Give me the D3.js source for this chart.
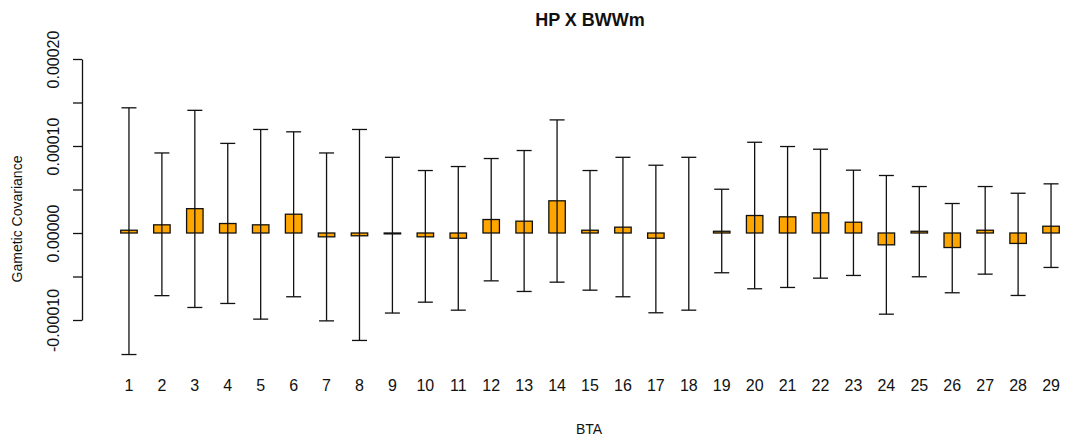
<!DOCTYPE html>
<html>
<head>
<meta charset="utf-8">
<script src="https://cdn.jsdelivr.net/npm/d3@7"></script>
<style>
  html, body { margin: 0; padding: 0; background: #fff; }
  svg { display: block; font-family: "Liberation Sans", Arial, sans-serif; }
</style>
</head>
<body>
<svg id="chart" width="1066" height="442"></svg>
<script>
// Chromosome labels (BTA 1..29)
const chromosomes = ["1","2","3","4","5","6","7","8","9","10","11","12","13","14","15",
  "16","17","18","19","20","21","22","23","24","25","26","27","28","29"];

// Mean gametic covariance per chromosome
const covMean = [3.2e-6, 9.4e-6, 2.8e-5, 1.09e-5, 9.4e-6, 2.16e-5, -4.4e-6, -3.2e-6, -1.0e-6,
  -4.4e-6, -6.0e-6, 1.55e-5, 1.36e-5, 3.7e-5, 3.2e-6, 6.7e-6, -6.0e-6, 0.0, 2.0e-6,
  2.01e-5, 1.86e-5, 2.32e-5, 1.24e-5, -1.36e-5, 2.0e-6, -1.67e-5, 3.2e-6, -1.2e-5, 7.8e-6];

// Upper and lower interval limits
const covUpper = [1.439e-4, 9.2e-5, 1.41e-4, 1.03e-4, 1.19e-4, 1.163e-4, 9.2e-5, 1.19e-4, 8.7e-5,
  7.18e-5, 7.64e-5, 8.56e-5, 9.48e-5, 1.30e-4, 7.18e-5, 8.7e-5, 7.79e-5, 8.7e-5, 5.03e-5,
  1.043e-4, 9.94e-5, 9.63e-5, 7.22e-5, 6.61e-5, 5.34e-5, 3.39e-5, 5.34e-5, 4.57e-5, 5.65e-5];
const covLower = [-1.397e-4, -7.2e-5, -8.56e-5, -8.1e-5, -9.9e-5, -7.33e-5, -1.01e-4, -1.235e-4, -9.2e-5,
  -7.95e-5, -8.87e-5, -5.5e-5, -6.72e-5, -5.65e-5, -6.57e-5, -7.33e-5, -9.17e-5, -8.87e-5, -4.57e-5,
  -6.41e-5, -6.26e-5, -5.19e-5, -4.88e-5, -9.33e-5, -5.03e-5, -6.87e-5, -4.73e-5, -7.18e-5, -3.96e-5];

// Y axis tick values
const yTicks = [-0.0001, -0.00005, 0, 0.00005, 0.0001, 0.00015, 0.0002];
const yTickLabels = ["-0.00010", "", "0.00000", "", "0.00010", "", "0.00020"];

const svg = d3.select("#chart");

// Band scale: bar width is half the step
const x = d3.scaleBand()
  .domain(chromosomes)
  .range([112.5, 1067.5])
  .paddingInner(0.5)
  .paddingOuter(0.25);

const y = d3.scaleLinear()
  .domain([-0.0001, 0.0002])
  .range([320, 59]);

// Title
svg.append("text")
  .attr("x", 590).attr("y", 26)
  .attr("text-anchor", "middle")
  .attr("font-size", 18).attr("font-weight", "bold")
  .attr("fill", "#111")
  .text("HP X BWWm");

// Y axis
const yAxis = d3.axisLeft(y)
  .tickValues(yTicks)
  .tickFormat((d, i) => yTickLabels[i])
  .tickSize(9)
  .tickSizeOuter(0);

const gy = svg.append("g")
  .attr("transform", "translate(82,0)")
  .call(yAxis);
gy.select(".domain").attr("stroke", "#111").attr("stroke-width", 1.3);
gy.selectAll(".tick line").attr("stroke", "#111").attr("stroke-width", 1.3);
gy.selectAll(".tick text")
  .attr("font-size", 16)
  .attr("fill", "#111")
  .attr("text-anchor", "middle")
  .attr("transform", "rotate(-90)")
  .attr("x", 0)
  .attr("y", -29)
  .attr("dy", "0.35em");

// Y axis title
svg.append("text")
  .attr("transform", "translate(22,219) rotate(-90)")
  .attr("text-anchor", "middle")
  .attr("font-size", 14)
  .attr("fill", "#111")
  .text("Gametic Covariance");

const bw = x.bandwidth();
const cap = 15;

const groups = svg.append("g").selectAll("g")
  .data(chromosomes)
  .join("g");

// Bars
groups.append("rect")
  .attr("x", d => x(d))
  .attr("width", bw)
  .attr("y", (d, i) => y(Math.max(0, covMean[i])))
  .attr("height", (d, i) => Math.abs(y(covMean[i]) - y(0)))
  .attr("fill", "#FFA500")
  .attr("stroke", "#111")
  .attr("stroke-width", 1.3);

// Error bars
groups.append("line")
  .attr("x1", d => x(d) + bw / 2).attr("x2", d => x(d) + bw / 2)
  .attr("y1", (d, i) => y(covUpper[i]))
  .attr("y2", (d, i) => y(covLower[i]))
  .attr("stroke", "#111").attr("stroke-width", 1.3);
groups.append("line")
  .attr("x1", d => x(d) + bw / 2 - cap / 2).attr("x2", d => x(d) + bw / 2 + cap / 2)
  .attr("y1", (d, i) => y(covUpper[i])).attr("y2", (d, i) => y(covUpper[i]))
  .attr("stroke", "#111").attr("stroke-width", 1.3);
groups.append("line")
  .attr("x1", d => x(d) + bw / 2 - cap / 2).attr("x2", d => x(d) + bw / 2 + cap / 2)
  .attr("y1", (d, i) => y(covLower[i])).attr("y2", (d, i) => y(covLower[i]))
  .attr("stroke", "#111").attr("stroke-width", 1.3);

// Category labels
groups.append("text")
  .attr("x", d => x(d) + bw / 2)
  .attr("y", 391)
  .attr("text-anchor", "middle")
  .attr("font-size", 16)
  .attr("fill", "#111")
  .text(d => d);

// X axis title
svg.append("text")
  .attr("x", 589).attr("y", 434)
  .attr("text-anchor", "middle")
  .attr("font-size", 14)
  .attr("fill", "#111")
  .text("BTA");
</script>
</body>
</html>
